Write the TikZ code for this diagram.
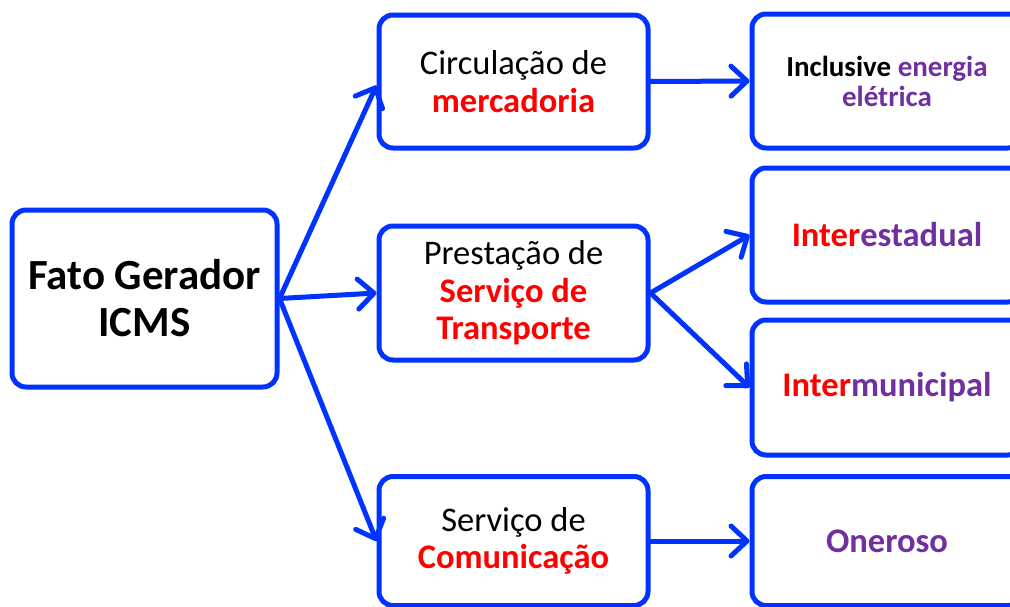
\documentclass[tikz,border=0pt]{standalone}
\usepackage{fontspec}
\setmainfont{Carlito}
\usetikzlibrary{arrows.meta}
\definecolor{bblue}{RGB}{0,51,255}
\definecolor{rred}{RGB}{255,0,0}
\definecolor{ppurple}{RGB}{112,48,160}
\tikzset{
  box/.style={draw=bblue, line width=5pt, rounded corners=14pt, fill=white, align=center, inner sep=0pt},
  leftbox/.style={box, minimum width=269pt, minimum height=133pt},
  rightbox/.style={box, minimum width=270pt, minimum height=133pt},
  midfont/.style={font=\fontsize{34.5}{37.5}\selectfont},
  conn/.style={draw=bblue, line width=5pt, line cap=round, -{Straight Barb[length=16pt,width=30pt,line cap=round,line join=round]}}
}
\begin{document}
\begin{tikzpicture}[x=1pt,y=-1pt]
\useasboundingbox (0,0) rectangle (1010,606);
\clip (0,0) rectangle (1010,606);
% left
\node[box, minimum width=265pt, minimum height=177pt, font=\fontsize{43}{47}\selectfont\bfseries] (fg) at (144.5,298.5) {Fato Gerador\\ICMS};
% middle
\node[leftbox, midfont] (circ) at (513.5,81.5) {Circulação de\\\textcolor{rred}{\bfseries mercadoria}};
\node[leftbox, minimum height=134pt, midfont] (prest) at (513.5,293) {Prestação de\\\textcolor{rred}{\bfseries Serviço de}\\\textcolor{rred}{\bfseries Transporte}};
\node[leftbox, minimum height=129pt, midfont] (com) at (513.5,541) {Serviço de\\\textcolor{rred}{\bfseries Comunicação}};
% right
\node[rightbox, minimum height=134pt, font=\fontsize{29}{30}\selectfont\bfseries] (incl) at (887,81) {Inclusive \textcolor{ppurple}{energia}\\\textcolor{ppurple}{elétrica}};
\node[rightbox, minimum height=134pt, font=\fontsize{34.5}{37}\selectfont\bfseries] (inter) at (887,235) {\textcolor{rred}{Inter}\textcolor{ppurple}{estadual}};
\node[rightbox, minimum height=135pt, font=\fontsize{34.5}{37}\selectfont\bfseries] (intm) at (887,387.5) {\textcolor{rred}{Inter}\textcolor{ppurple}{municipal}};
\node[rightbox, minimum height=129pt, font=\fontsize{34.5}{37}\selectfont\bfseries] (oner) at (887,541) {\textcolor{ppurple}{Oneroso}};
% connectors
\coordinate (o) at (fg.east);
\draw[conn] (o) -- ([yshift=-4pt]circ.west);
\draw[conn] (o) -- (prest.west);
\draw[conn] (o) -- (com.west);
\draw[conn] (circ.east) -- (incl.west);
\draw[conn] (prest.east) -- (inter.west);
\draw[conn] (prest.east) -- (intm.west);
\draw[conn] (com.east) -- (oner.west);
\end{tikzpicture}
\end{document}
